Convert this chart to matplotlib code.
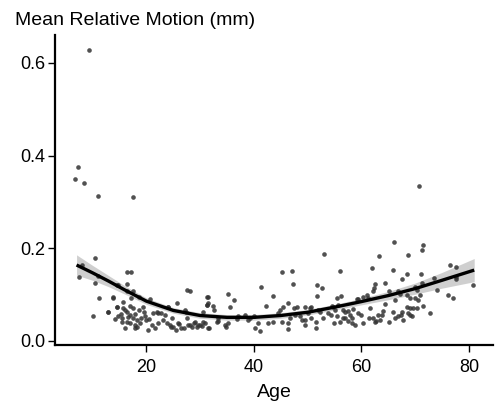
import matplotlib
matplotlib.use("Agg")
import matplotlib.pyplot as plt

plt.rcParams['font.family'] = ['Liberation Sans', 'DejaVu Sans']

# outliers
out_age = [9.3, 7.2, 6.8, 8.4, 11.0, 17.5, 70.8]
out_mot = [0.629, 0.375, 0.350, 0.340, 0.314, 0.310, 0.334]

# young subjects (7-31)
young_age = [7.5, 8.1, 10.4, 10.9, 10.5, 11.1, 10.1, 12.9, 13.8, 14.6, 14.5,
             16.3, 17.2, 14.8, 16.3, 13.8, 15.6, 16.3, 17.5, 17.2, 18.7, 20.7,
             14.6, 12.9, 15.7, 16.3, 14.8, 15.4, 16.9, 17.5, 17.5, 18.7, 19.4,
             19.0, 16.3, 16.9, 17.9, 16.0, 17.9, 20.5, 21.3, 21.9, 21.0, 20.3,
             21.6, 22.2, 22.8, 23.1, 23.8, 24.4, 24.1, 24.7, 25.5, 25.0, 25.9,
             26.5, 25.6, 27.5, 28.2, 27.2, 27.5, 28.1, 29.0, 30.0, 30.6, 31.2,
             31.2, 19.7, 18.3, 15.2, 16.6, 17.8, 18.3, 14.2, 16.0, 17.0, 18.9,
             19.5, 15.5, 20.0, 22.2, 23.4, 24.5, 26.0, 27.0, 28.8, 29.4, 30.3,
             27.3, 24.1, 30.6, 28.4, 27.8, 29.6]
young_mot = [0.138, 0.164, 0.179, 0.140, 0.125, 0.092, 0.054, 0.063, 0.093, 0.120, 0.073,
             0.149, 0.149, 0.121, 0.123, 0.094, 0.085, 0.107, 0.107, 0.092, 0.096, 0.091,
             0.074, 0.063, 0.071, 0.063, 0.053, 0.049, 0.056, 0.049, 0.071, 0.067, 0.074,
             0.049, 0.042, 0.038, 0.035, 0.027, 0.027, 0.047, 0.060, 0.063, 0.035, 0.024,
             0.027, 0.038, 0.060, 0.045, 0.038, 0.035, 0.074, 0.049, 0.024, 0.031, 0.038,
             0.027, 0.081, 0.110, 0.107, 0.067, 0.049, 0.035, 0.042, 0.035, 0.040, 0.096,
             0.078, 0.053, 0.031, 0.058, 0.052, 0.058, 0.045, 0.048, 0.066, 0.075, 0.038,
             0.062, 0.040, 0.045, 0.060, 0.056, 0.030, 0.036, 0.029, 0.038, 0.030, 0.033,
             0.062, 0.074, 0.063, 0.031, 0.035, 0.035]

# middle-aged subjects (31-55)
mid_age = [45.2, 47.1, 47.3, 41.3, 35.2, 36.3, 43.6, 35.5, 42.2, 31.4, 31.2, 32.4,
           32.6, 30.9, 31.6, 33.4, 34.6, 35.1, 38.3, 38.9, 40.2, 41.2, 40.8, 42.7,
           43.6, 44.5, 44.8, 45.5, 46.3, 45.3, 46.3, 46.3, 46.7, 47.5, 48.1, 47.6,
           48.6, 49.0, 49.5, 49.5, 50.4, 50.7, 49.6, 50.1, 50.6, 51.7, 52.7, 51.8,
           51.5, 51.5, 52.9, 52.0, 52.3, 53.8, 54.3, 54.8, 53.1, 40.1, 31.5, 33.4,
           34.9, 31.5, 39.3, 33.2, 37.0, 36.8]
mid_mot = [0.149, 0.151, 0.123, 0.117, 0.102, 0.089, 0.097, 0.074, 0.076, 0.094, 0.077, 0.075,
           0.067, 0.038, 0.029, 0.043, 0.035, 0.038, 0.056, 0.045, 0.027, 0.022, 0.038, 0.038,
           0.040, 0.060, 0.067, 0.074, 0.081, 0.042, 0.038, 0.026, 0.050, 0.072, 0.074, 0.056,
           0.053, 0.045, 0.045, 0.074, 0.072, 0.073, 0.035, 0.060, 0.049, 0.120, 0.114, 0.098,
           0.040, 0.027, 0.049, 0.067, 0.063, 0.060, 0.056, 0.074, 0.188, 0.054, 0.081, 0.049,
           0.031, 0.027, 0.049, 0.042, 0.053, 0.047]

# older subjects (53-82)
old_age = [66.1, 71.5, 71.2, 63.3, 68.7, 56.1, 62.0, 65.9, 76.5, 77.7, 71.1, 68.4,
           67.5, 73.5, 77.6, 77.7, 80.8, 62.6, 62.4, 62.2, 64.4, 65.2, 66.9, 67.2,
           70.0, 70.3, 74.1, 76.2, 77.1, 70.9, 70.6, 69.0, 70.0, 68.4, 66.2, 64.4,
           61.0, 60.3, 61.3, 59.3, 55.4, 56.3, 55.7, 54.5, 55.1, 56.6, 57.5, 57.9,
           58.2, 56.6, 56.9, 55.5, 54.9, 58.2, 59.4, 60.0, 60.3, 61.6, 62.2, 62.7,
           63.1, 63.9, 64.1, 65.9, 66.2, 66.8, 67.3, 67.5, 68.4, 69.0, 69.6, 70.3,
           69.0, 69.5, 71.4, 72.7, 59.1, 58.8, 62.6, 57.0, 58.5, 57.5, 56.0, 61.5,
           63.5, 65.2, 67.8, 68.6, 71.3]
old_mot = [0.213, 0.208, 0.197, 0.184, 0.186, 0.152, 0.157, 0.154, 0.164, 0.159, 0.144, 0.145,
           0.134, 0.136, 0.139, 0.134, 0.121, 0.123, 0.115, 0.107, 0.125, 0.108, 0.107, 0.101,
           0.117, 0.110, 0.109, 0.099, 0.092, 0.099, 0.089, 0.092, 0.092, 0.099, 0.089, 0.080,
           0.099, 0.096, 0.092, 0.091, 0.092, 0.098, 0.078, 0.076, 0.067, 0.067, 0.065, 0.056,
           0.049, 0.050, 0.049, 0.053, 0.038, 0.038, 0.060, 0.056, 0.038, 0.071, 0.050, 0.043,
           0.056, 0.056, 0.065, 0.063, 0.049, 0.053, 0.056, 0.063, 0.074, 0.071, 0.072, 0.072,
           0.056, 0.055, 0.076, 0.060, 0.090, 0.035, 0.042, 0.062, 0.070, 0.043, 0.040, 0.050,
           0.045, 0.040, 0.045, 0.060, 0.125]

# fitted curve with confidence band
fit_age = [7, 10, 13, 16, 20, 25, 30, 35, 40, 45, 50, 55, 60, 65, 70, 75, 81]
fit_mid = [0.164, 0.147, 0.129, 0.110, 0.086, 0.066, 0.055, 0.051, 0.051, 0.055,
           0.062, 0.073, 0.085, 0.098, 0.113, 0.131, 0.153]
fit_hw = [0.022, 0.016, 0.012, 0.009, 0.007, 0.006, 0.006, 0.006, 0.006, 0.006,
          0.006, 0.006, 0.007, 0.009, 0.012, 0.017, 0.025]

ages = out_age + young_age + mid_age + old_age
motion = out_mot + young_mot + mid_mot + old_mot

fig = plt.figure(figsize=(4.95, 4.01), dpi=100)
ax = fig.add_axes([0.111, 0.1397, 0.885, 0.773])

lo = [m - h for m, h in zip(fit_mid, fit_hw)]
hi = [m + h for m, h in zip(fit_mid, fit_hw)]
ax.fill_between(fit_age, lo, hi, color='#c4c4c4', alpha=0.8, lw=0, zorder=1)
ax.scatter(ages, motion, s=11, color='#333333', alpha=0.85, lw=0, zorder=2)
ax.plot(fit_age, fit_mid, color='black', lw=2.4, zorder=3, solid_capstyle='butt')

ax.set_xlim(2.98, 84.5)
ax.set_ylim(-0.0086, 0.6604)
ax.set_xticks([20, 40, 60, 80])
ax.set_yticks([0.0, 0.2, 0.4, 0.6])
ax.set_yticklabels(['0.0', '0.2', '0.4', '0.6'])

for s in ['top', 'right']:
    ax.spines[s].set_visible(False)
for s in ['left', 'bottom']:
    ax.spines[s].set_linewidth(1.6)
ax.tick_params(direction='out', length=5, width=1, labelsize=13)
ax.tick_params(axis='x', pad=5)
ax.tick_params(axis='y', pad=2)

ax.set_xlabel('Age', fontsize=14, labelpad=6)
fig.text(0.03, 0.95, 'Mean Relative Motion (mm)', fontsize=14, ha='left', va='center')

fig.savefig('out.png', dpi=100)
